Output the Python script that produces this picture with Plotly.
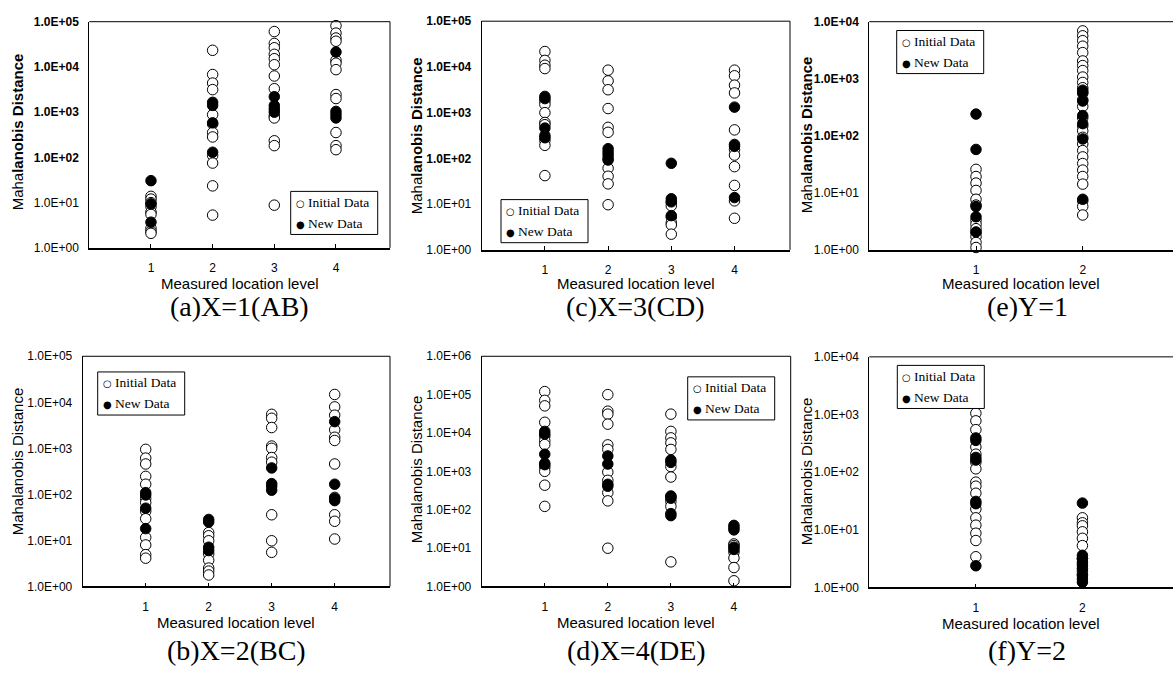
import plotly.graph_objects as go

# ---------------- data (Mahalanobis distance by measured location level) -------------
a_init = {1: [13.8, 12, 10, 8.1, 6.2, 5.5, 2.7, 2.3, 2.1],
          2: [23300, 6800, 4400, 3150, 880, 550, 355, 283, 110, 75, 23.5, 5.3],
          3: [60500, 33000, 26500, 19000, 15200, 11200, 6300, 3300, 830, 745, 233, 182, 8.8],
          4: [81700, 56000, 43600, 37000, 14000, 12100, 8700, 2450, 2000, 355, 182, 148]}
a_new = {1: [30.6, 9.4, 3.7],
         2: [1650, 1410, 580, 130],
         3: [2200, 1400, 1180, 1000],
         4: [21400, 1040, 880, 745]}

c_init = {1: [21700, 13900, 10900, 9200, 1780, 1510, 1000, 610, 545, 247, 193, 42],
          2: [8500, 4950, 3170, 1230, 477, 372, 100, 61, 40.7, 27.7, 9.7],
          3: [10.9, 9.2, 5.2, 3.9, 3.5, 2.2],
          4: [8500, 6400, 4000, 2700, 420, 156, 118, 66, 25.6, 11.8, 4.9]}
c_new = {1: [2270, 2030, 460, 316, 283],
         2: [163, 138, 118, 92],
         3: [78, 13.1, 11.2, 5.6],
         4: [1320, 202, 183, 13.9]}

e_init = {1: [25.8, 19.3, 14.8, 11, 7.7, 6.1, 3.3, 2.8, 2.35, 2.0, 1.7, 1.35, 1.1],
          2: [6900, 5650, 4650, 3720, 2870, 2050, 1700, 1390, 1070, 860, 695, 555, 425, 327,
              206, 148, 122, 94, 72, 55, 42.6, 32.6, 25, 19.3, 14.2, 7.2, 5.76, 4.08]}
e_new = {1: [240, 57.6, 5.76, 3.8, 2.06],
         2: [630, 575, 407, 226, 163, 88, 7.7]}

b_init = {1: [950, 613, 457, 246, 166, 81, 66, 43, 29.5, 11.6, 7.95, 4.9, 4.1],
          2: [14.8, 12.6, 9.8, 5.1, 3.7, 2.5, 2.15, 1.77],
          3: [5480, 4500, 2830, 1120, 1000, 630, 500, 36, 9.8, 5.5],
          4: [14800, 7950, 5250, 2520, 1740, 1480, 457, 86, 36, 26, 10.7]}
b_new = {1: [109, 97, 50, 18.0],
         2: [28.5, 25, 7.1, 6.0],
         3: [375, 171, 150, 123],
         4: [3800, 166, 82, 73]}

d_init = {1: [120000, 71000, 51000, 19000, 8200, 6300, 5000, 1280, 1000, 435, 122],
          2: [100000, 37000, 31000, 17000, 4900, 3730, 955, 583, 278, 170, 9.9],
          3: [31000, 11000, 7460, 5520, 3730, 1330, 710, 219, 164, 122, 4.35],
          4: [12.8, 11.6, 7.8, 5.5, 3.1, 1.4]}
d_new = {1: [11000, 9400, 2800, 1620, 1490],
         2: [2520, 1550, 460, 409],
         3: [1970, 1710, 228, 199, 79, 70],
         4: [39, 34, 29.7, 10.5, 9.2]}

f_init = {1: [2500, 1500, 1050, 776, 545, 273, 205, 148, 114, 67, 57, 43, 22.9, 16.1, 12, 8.7, 6.5, 3.4],
          2: [16.1, 13.2, 11.7, 9.2, 7.1, 5.3, 3.15, 1.92, 1.7]}
f_new = {1: [392, 355, 180, 162, 31, 28.3, 2.37],
         2: [29, 3.6, 3.15, 2.7, 2.43, 2.13, 1.6, 1.4, 1.23]}

captions = ["(a)X=1(AB)", "(c)X=3(CD)", "(e)Y=1", "(b)X=2(BC)", "(d)X=4(DE)", "(f)Y=2"]
y_title = "Mahalanobis Distance"
x_title = "Measured location level"
legend_labels = ["Initial Data", "New Data"]

# ---------------- layout geometry (pixels) ----------------
W, H = 1173, 673
panels = [
    dict(init=a_init, new=a_new, box=(89.3, 15, 390, 246), xmax=4.876, dec=5, top=True,
         leg=(290.7, 188.3), ytx=17, yty=128, cap_y=306, xt_y=282, tks=8, right=True),
    dict(init=c_init, new=c_new, box=(481.7, 14.5, 790, 248), xmax=4.878, dec=5, top=True,
         leg=(501, 196.7), ytx=416, yty=132, cap_y=306, xt_y=282, tks=8, right=True),
    dict(init=e_init, new=e_new, box=(869.3, 15, 1173, 248), xmax=2.846, dec=4, top=True,
         leg=(896.7, 24), ytx=806, yty=131, cap_y=306, xt_y=282, tks=8, right=False),
    dict(init=b_init, new=b_new, box=(82.7, 356.7, 390, 591.7), xmax=4.878, dec=5, top=False,
         leg=(97.7, 372.7), ytx=17, yty=464, cap_y=657, xt_y=628.5, tks=8, right=True),
    dict(init=d_init, new=d_new, box=(481.7, 356.7, 790.7, 591.7), xmax=4.9, dec=6, top=False,
         leg=(687.7, 377.7), ytx=416, yty=472, cap_y=657, xt_y=628.5, tks=8, right=True),
    dict(init=f_init, new=f_new, box=(869.3, 357.3, 1173, 592.7), xmax=2.85, dec=4, top=False,
         leg=(897.3, 366), ytx=806, yty=474, cap_y=657, xt_y=629.5, tks=8, right=False),
]

SANS = "Liberation Sans, Arial, sans-serif"
SERIF = "Liberation Serif, Times New Roman, serif"

fig = go.Figure()
shapes, annotations = [], []
layout = dict(width=W, height=H, margin=dict(l=0, r=0, t=0, b=0),
              paper_bgcolor="white", plot_bgcolor="white", showlegend=False)


def px(x):
    return x / W


def py(y):
    return 1 - y / H


for i, p in enumerate(panels):
    sfx = "" if i == 0 else str(i + 1)
    xa, ya = "x" + sfx, "y" + sfx
    x0, y0, x1, y1 = p["box"]
    nlev = len(p["init"])

    for series, fill in ((p["init"], "white"), (p["new"], "black")):
        xs, ys = [], []
        for lev, vals in series.items():
            xs += [lev] * len(vals)
            ys += vals
        fig.add_trace(go.Scatter(
            x=xs, y=ys, mode="markers", xaxis=xa, yaxis=ya, cliponaxis=False,
            marker=dict(symbol="circle", size=10.5, color=fill, line=dict(color="black", width=1)),
            hoverinfo="x+y"))

    tickvals = [10 ** k for k in range(p["dec"] + 1)]
    ticktext = []
    for k in range(p["dec"] + 1):
        t = "1.0E+%02d" % k
        if p["top"] and k >= 2:
            t = "<b>" + t + "</b>"
        ticktext.append(t)

    layout["xaxis" + sfx] = dict(
        domain=[px(x0), px(x1)], range=[0, p["xmax"]], anchor=ya,
        tickvals=list(range(1, nlev + 1)), ticks="inside", ticklen=4, tickwidth=1,
        tickcolor="black", showline=True, linecolor="black", linewidth=1.6,
        showgrid=False, zeroline=False, ticklabelstandoff=p["tks"],
        tickfont=dict(family=SANS, size=12, color="black"), fixedrange=True)
    layout["yaxis" + sfx] = dict(
        domain=[py(y1), py(y0)], type="log", range=[0, p["dec"]], anchor=xa,
        tickvals=tickvals, ticktext=ticktext, ticks="", showline=True,
        linecolor="black", linewidth=1, showgrid=False, zeroline=False,
        ticklabelstandoff=7, tickfont=dict(family=SANS, size=12, color="black"),
        fixedrange=True)

    # frame: top (and right) edge
    shapes.append(dict(type="line", xref=xa + " domain", yref=ya + " domain",
                       x0=0, x1=1, y0=1, y1=1, line=dict(color="black", width=1)))
    if p["right"]:
        shapes.append(dict(type="line", xref=xa + " domain", yref=ya + " domain",
                           x0=1, x1=1, y0=0, y1=1, line=dict(color="black", width=1)))

    # legend box
    lx, ly = p["leg"]
    shapes.append(dict(type="rect", xref="paper", yref="paper", layer="above",
                       x0=px(lx), x1=px(lx + 87), y0=py(ly + 44), y1=py(ly),
                       fillcolor="white", line=dict(color="black", width=1)))
    for j, (glyph, lab) in enumerate(zip(["○", "●"], legend_labels)):
        annotations.append(dict(
            xref="paper", yref="paper", x=px(lx + 3), y=py(ly + 11 + 21.5 * j),
            xanchor="left", yanchor="middle", showarrow=False,
            text="<span style='font-family:DejaVu Sans;font-size:10px'>%s</span> %s" % (glyph, lab),
            font=dict(family=SERIF, size=13.5, color="black")))

    # y axis title
    if p["top"]:
        yt = "Maha<b>lanobis Distance</b>"
    else:
        yt = y_title
    annotations.append(dict(xref="paper", yref="paper", x=px(p["ytx"]), y=py(p["yty"]),
                            xanchor="center", yanchor="middle", showarrow=False,
                            textangle=-90, text=yt,
                            font=dict(family=SANS, size=15, color="black")))
    # x axis title
    annotations.append(dict(xref="paper", yref="paper", x=px((x0 + x1) / 2), y=py(p["xt_y"]),
                            xanchor="center", yanchor="middle", showarrow=False,
                            text=x_title, font=dict(family=SANS, size=15, color="black")))
    # caption
    cx = (x0 + x1) / 2 + (6 if i in (2, 5) else 0)
    annotations.append(dict(xref="paper", yref="paper", x=px(cx), y=py(p["cap_y"]),
                            xanchor="center", yanchor="middle", showarrow=False,
                            text=captions[i], font=dict(family=SERIF, size=28, color="black")))

layout["shapes"] = shapes
layout["annotations"] = annotations
fig.update_layout(**layout)
fig.write_html("out.html",
               config={"displayModeBar": False},
               post_script="document.body.style.margin='0';"
                           "document.documentElement.style.overflow='hidden';")
